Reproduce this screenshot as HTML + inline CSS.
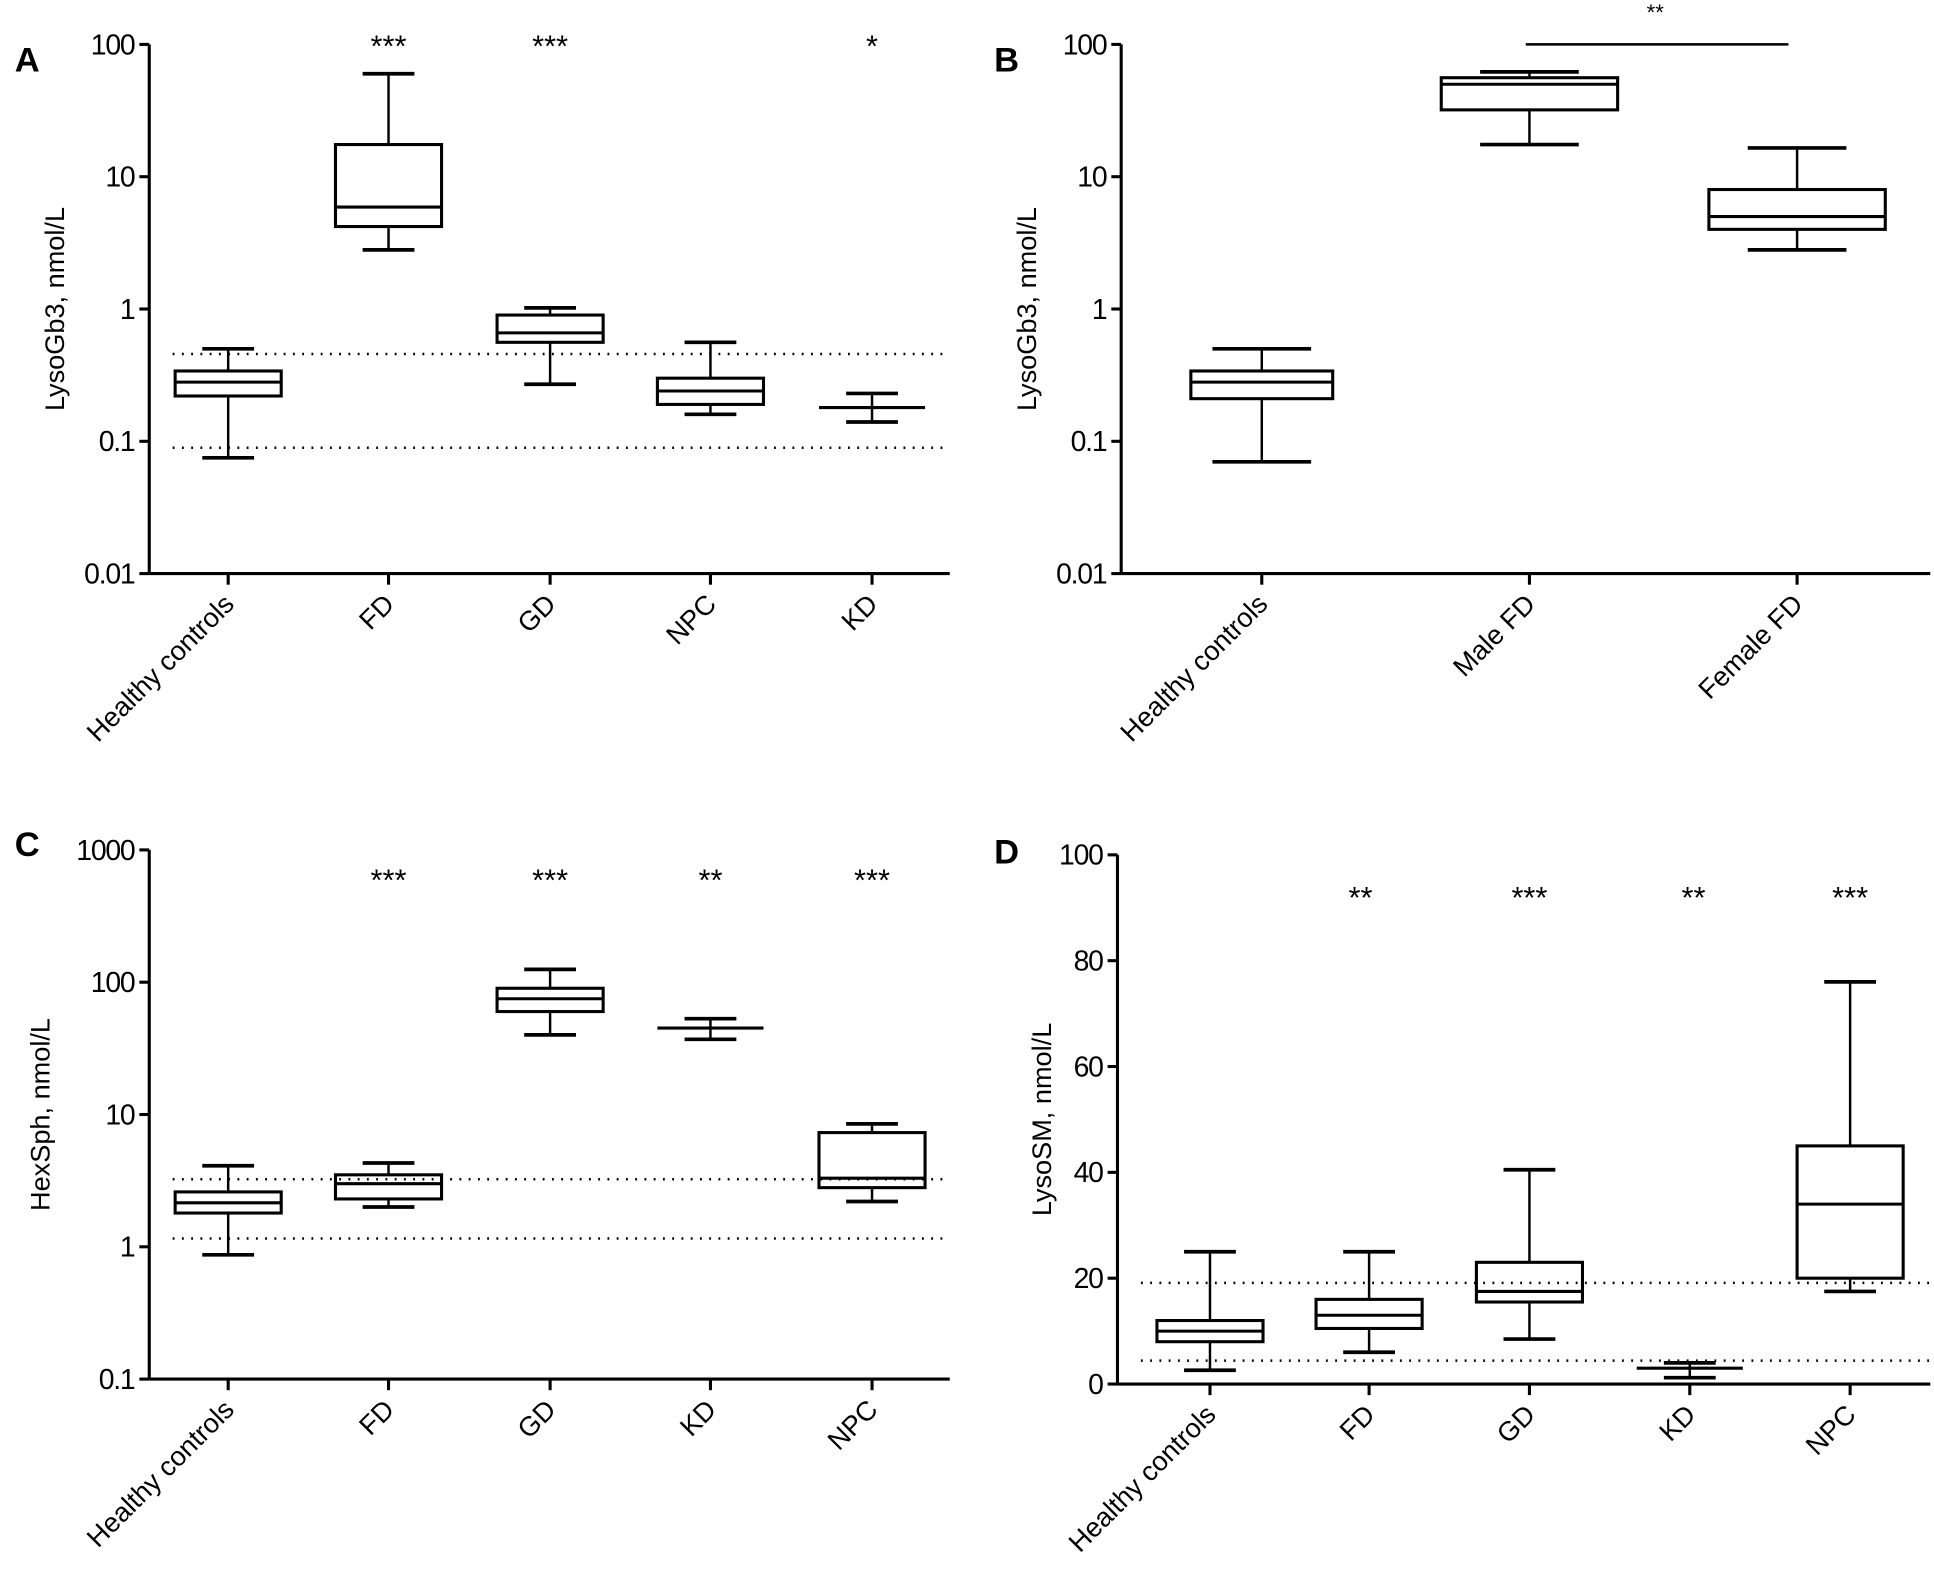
<!DOCTYPE html>
<html><head><meta charset="utf-8"><style>html,body{margin:0;padding:0;background:#fff}svg{display:block}</style></head>
<body>
<svg id="s" xmlns="http://www.w3.org/2000/svg" width="1934" height="1574" viewBox="0 0 1568 1276" preserveAspectRatio="none" font-family="Liberation Sans, Arial, sans-serif"></svg>
<script>
var s=document.getElementById('s'),o='';
function L(x1,y1,x2,y2,w,d){o+='<line x1="'+x1+'" y1="'+y1+'" x2="'+x2+'" y2="'+y2+'" stroke="#000" stroke-width="'+(w||2)+'"'+(d?' stroke-dasharray="1.5 6"':'')+'/>';}
function T(x,y,t,sz,a,extra){o+='<text x="'+x+'" y="'+y+'" font-size="'+sz+'" text-anchor="'+(a||'middle')+'" '+(extra||'')+'>'+t+'</text>';}
function logY(top,v){return top+(2-Math.log10(v))*107.25;}
function box(x,ys,bw,cw){
 var lo=ys[0],q1=ys[1],md=ys[2],q3=ys[3],hi=ys[4];
 if(q1===null){L(x,hi,x,lo,2);}
 else{L(x,hi,x,q3,2);L(x,q1,x,lo,2);
  o+='<rect x="'+(x-bw/2)+'" y="'+q3+'" width="'+bw+'" height="'+(q1-q3)+'" fill="none" stroke="#000" stroke-width="2.5"/>';}
 L(x-cw/2,hi,x+cw/2,hi,3);L(x-cw/2,lo,x+cw/2,lo,3);
 L(x-bw/2,md,x+bw/2,md,2.5);
}
function panel(ax,top,bot,xend,ticks,labels,xs,ylabel,ylx){
 L(ax,top,ax,bot,2.5);L(ax,bot,xend,bot,2.5);
 ticks.forEach(function(t){L(ax-8,t[0],ax,t[0],2.5);T(ax-12,t[0]+8,t[1],23,'end','letter-spacing="-1"');});
 xs.forEach(function(x,i){L(x,bot,x,bot+9,2.5);
  o+='<text x="'+(x+6)+'" y="'+(bot+26)+'" font-size="22" text-anchor="end" transform="rotate(-45 '+(x+6)+' '+(bot+26)+')">'+labels[i]+'</text>';});
 o+='<text x="'+ylx+'" y="'+((top+bot)/2)+'" font-size="22" text-anchor="middle" transform="rotate(-90 '+ylx+' '+((top+bot)/2)+')">'+ylabel+'</text>';
}
var tA=36;function a(v){return logY(tA,v);}
panel(121,36,465,770,[[a(100),'100'],[a(10),'10'],[a(1),'1'],[a(0.1),'0.1'],[a(0.01),'0.01']],['Healthy controls','FD','GD','NPC','KD'],[185,315,446,576,707],'LysoGb3, nmol/L',52);
L(140,287,770,287,2,1);L(140,363,770,363,2,1);
box(185,[a(0.075),a(0.22),a(0.28),a(0.34),a(0.5)],86,42);
box(315,[a(2.8),a(4.2),a(5.9),a(17.5),a(60)],86,42);
box(446,[a(0.27),a(0.56),a(0.66),a(0.9),a(1.02)],86,42);
box(576,[a(0.16),a(0.19),a(0.24),a(0.3),a(0.56)],86,42);
box(707,[a(0.14),null,a(0.18),null,a(0.23)],86,42);
T(315,46,'***',25);T(446,46,'***',25);T(707,46,'*',25);
T(12,58,'A',28,'start','font-weight="bold"');
panel(909,36,465,1565,[[a(100),'100'],[a(10),'10'],[a(1),'1'],[a(0.1),'0.1'],[a(0.01),'0.01']],['Healthy controls','Male FD','Female  FD'],[1023,1240,1457],'LysoGb3, nmol/L',840);
box(1023,[a(0.07),a(0.21),a(0.28),a(0.34),a(0.5)],115,80);
box(1240,[a(17.5),a(32),a(50),a(56),a(62)],143,80);
box(1457,[a(2.8),a(4),a(5),a(8),a(16.5)],143,80);
L(1237,36,1450,36,2);T(1342,16,'**',18);
T(806,58,'B',28,'start','font-weight="bold"');
var tC=689;function c(v){return tC+(3-Math.log10(v))*107.25;}
panel(121,689,1118,770,[[c(1000),'1000'],[c(100),'100'],[c(10),'10'],[c(1),'1'],[c(0.1),'0.1']],['Healthy controls','FD','GD','KD','NPC'],[185,315,446,576,707],'HexSph, nmol/L',40);
L(140,956,770,956,2,1);L(140,1004,770,1004,2,1);
box(185,[c(0.87),c(1.8),c(2.15),c(2.6),c(4.1)],86,42);
box(315,[c(2),c(2.3),c(3.0),c(3.5),c(4.3)],86,42);
box(446,[c(40),c(60),c(75),c(90),c(125)],86,42);
box(576,[c(37),null,c(45),null,c(53)],86,42);
box(707,[c(2.2),c(2.8),c(3.3),c(7.3),c(8.5)],86,42);
T(315,722,'***',25);T(446,722,'***',25);T(576,722,'**',25);T(707,722,'***',25);
T(12,694,'C',28,'start','font-weight="bold"');
function d(v){return 1122-v*4.29;}
panel(906,693,1122,1565,[[d(100),'100'],[d(80),'80'],[d(60),'60'],[d(40),'40'],[d(20),'20'],[d(0),'0']],['Healthy controls','FD','GD','KD','NPC'],[981,1110,1240,1370,1500],'LysoSM, nmol/L',852);
L(925,1040,1565,1040,2,1);L(925,1103,1565,1103,2,1);
box(981,[d(2.6),d(8),d(10),d(12),d(25)],86,42);
box(1110,[d(6),d(10.5),d(13),d(16),d(25)],86,42);
box(1240,[d(8.5),d(15.5),d(17.5),d(23),d(40.5)],86,42);
box(1370,[d(1.2),null,d(3),null,d(4)],86,42);
box(1500,[d(17.5),d(20),d(34),d(45),d(76)],86,42);
T(1103,736,'**',25);T(1240,736,'***',25);T(1373,736,'**',25);T(1500,736,'***',25);
T(806,700,'D',28,'start','font-weight="bold"');
s.innerHTML=o;
</script>
</body></html>
